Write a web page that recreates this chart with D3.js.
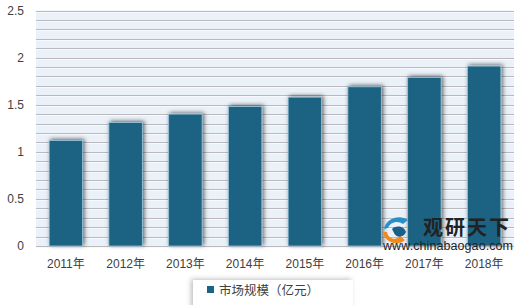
<!DOCTYPE html>
<html><head><meta charset="utf-8">
<script src="https://cdn.jsdelivr.net/npm/d3@7"></script>
<style>body{margin:0;background:#fff;font-family:"Noto Sans CJK SC","Liberation Sans",sans-serif;}</style>
</head><body><svg id="c" width="520" height="305"></svg>
<script>
const categories = ["2011年","2012年","2013年","2014年","2015年","2016年","2017年","2018年"];
const values = [1.12, 1.31, 1.40, 1.48, 1.58, 1.69, 1.79, 1.91];
const yTicks = [0, 0.5, 1, 1.5, 2, 2.5];
const seriesName = "市场规模（亿元）";

const svg = d3.select("#c");
const m = {l:36, r:514, t:10.5, b:246};
const x = d3.scaleBand().domain(categories).range([m.l, m.r]).paddingInner(0.44).paddingOuter(0.22);
const y = d3.scaleLinear().domain([0, 2.5]).range([m.b, m.t]);

const defs = svg.append("defs");
const f = defs.append("filter").attr("id","sh").attr("x","-30%").attr("y","-10%").attr("width","160%").attr("height","130%");
f.append("feDropShadow").attr("dx",1.5).attr("dy",-1).attr("stdDeviation",2.2).attr("flood-color","#000").attr("flood-opacity",0.6);
const f2 = defs.append("filter").attr("id","sh2").attr("x","-20%").attr("y","-40%").attr("width","140%").attr("height","180%");
f2.append("feDropShadow").attr("dx",-2).attr("dy",-1).attr("stdDeviation",2.5).attr("flood-color","#000").attr("flood-opacity",0.25);

// plot background
svg.append("rect").attr("x",m.l).attr("y",m.t).attr("width",m.r-m.l).attr("height",m.b-m.t).attr("fill","#eaf1f8");

// minor gridlines every 0.1
const grid = d3.range(0, 26).map(i => i/10);
svg.append("g").selectAll("line").data(grid).join("line")
  .attr("x1",m.l).attr("x2",m.r)
  .attr("y1",d=>Math.round(y(d))+0.5).attr("y2",d=>Math.round(y(d))+0.5)
  .attr("stroke","#b9b9be").attr("stroke-width",1);
svg.append("g").selectAll("line").data(grid).join("line")
  .attr("x1",m.l).attr("x2",m.r)
  .attr("y1",d=>Math.round(y(d))+1.5).attr("y2",d=>Math.round(y(d))+1.5)
  .attr("stroke","#f7f9fc").attr("stroke-width",1);

// bars
svg.append("g").selectAll("rect").data(values).join("rect")
  .attr("x",(d,i)=>x(categories[i])).attr("width",x.bandwidth())
  .attr("y",d=>y(d)).attr("height",d=>y(0)-y(d))
  .attr("fill","#1b6383").attr("stroke","#9cc3d8").attr("stroke-width",0.8)
  .attr("filter","url(#sh)");

// y axis labels
const ya = d3.axisLeft(y).tickValues(yTicks).tickSize(0).tickPadding(12).tickFormat(d3.format("~g"));
svg.append("g").attr("transform",`translate(${m.l},0)`).call(ya)
  .call(g=>g.select(".domain").remove())
  .selectAll("text").attr("font-size",12).attr("fill","#404040").attr("font-family","Liberation Sans, Noto Sans CJK SC, sans-serif");

// x axis labels
const xa = d3.axisBottom(x).tickSize(0).tickPadding(13);
svg.append("g").attr("transform",`translate(0,${m.b})`).call(xa)
  .call(g=>g.select(".domain").remove())
  .selectAll("text").attr("font-size",12).attr("fill","#404040").attr("font-family","Liberation Sans, Noto Sans CJK SC, sans-serif");

// watermark
const wm = svg.append("g");
wm.append("path").attr("d","M384,229 C386,218 400,214 408,220 L403,224 C398,220 390,222 388,228 Z").attr("fill","#2a8fc8");
wm.append("path").attr("d","M383,232 C384,242 398,247 405,240 L400,236 C396,241 388,239 387,232 Z").attr("fill","#f08a1c");
wm.append("path").attr("d","M392,229 C396,225 404,226 406,232 C404,238 396,238 394,233 Z").attr("fill","#1a5f8a");
wm.append("text").attr("x",423).attr("y",235).attr("font-size",20).attr("font-weight","bold").attr("fill","#222")
  .attr("font-family","Noto Sans CJK SC").attr("letter-spacing",2).text("观研天下");
wm.append("text").attr("x",383).attr("y",250).attr("font-size",12.5).attr("fill","#222")
  .attr("font-family","Liberation Sans, sans-serif").attr("textLength",130).text("www.chinabaogao.com");

// legend
const lg = svg.append("g");
lg.append("rect").attr("x",193).attr("y",280).attr("width",160).attr("height",30).attr("fill","#fff").attr("filter","url(#sh2)");
lg.append("rect").attr("x",207).attr("y",286).attr("width",7).attr("height",7).attr("fill","#1b6383");
lg.append("text").attr("x",219).attr("y",294.5).attr("font-size",12.5).attr("fill","#404040")
  .attr("font-family","Noto Sans CJK SC").text(seriesName);
</script></body></html>
